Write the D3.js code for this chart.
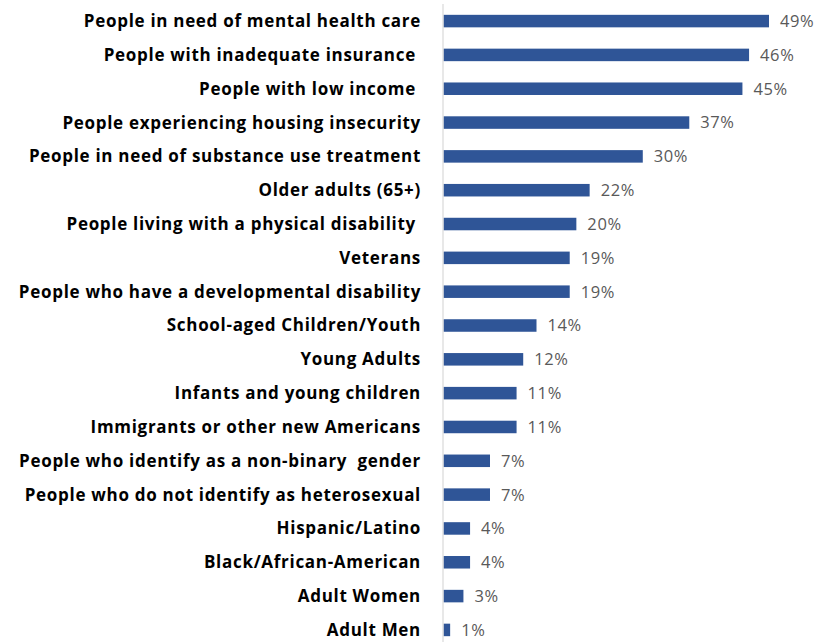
<!DOCTYPE html>
<html>
<head>
<meta charset="utf-8">
<script src="https://cdn.jsdelivr.net/npm/d3@7"></script>
<style>
  html, body { margin: 0; padding: 0; background: #fff; }
  svg { display: block; }
</style>
</head>
<body>
<svg id="chart" width="825" height="642"></svg>
<script>
// Groups served, in display order (top to bottom)
const categories = [
  "People in need of mental health care",
  "People with inadequate insurance ",
  "People with low income ",
  "People experiencing housing insecurity",
  "People in need of substance use treatment",
  "Older adults (65+)",
  "People living with a physical disability ",
  "Veterans",
  "People who have a developmental disability",
  "School-aged Children/Youth",
  "Young Adults",
  "Infants and young children",
  "Immigrants or other new Americans",
  "People who identify as a non-binary  gender",
  "People who do not identify as heterosexual",
  "Hispanic/Latino",
  "Black/African-American",
  "Adult Women",
  "Adult Men"
];
// Share of respondents (%)
const values = [49, 46, 45, 37, 30, 22, 20, 19, 19, 14, 12, 11, 11, 7, 7, 4, 4, 3, 1];

const svg = d3.select("#chart");
const axisX = 443.5;
const x = d3.scaleLinear().domain([0, 49]).range([axisX, 769]);
const y = d3.scaleBand()
  .domain(categories)
  .range([4, 647])
  .paddingInner(0.63)
  .paddingOuter(0.32);

// Bars
svg.append("g")
  .selectAll("rect")
  .data(values)
  .join("rect")
  .attr("x", x(0))
  .attr("y", (d, i) => y(categories[i]))
  .attr("width", d => x(d) - x(0))
  .attr("height", y.bandwidth())
  .attr("fill", "#2F5597");

// Vertical category axis line
svg.append("line")
  .attr("x1", axisX - 0.5).attr("x2", axisX - 0.5)
  .attr("y1", 4).attr("y2", 642)
  .attr("stroke", "#d9d9d9")
  .attr("stroke-width", 1.2);

// Category labels
svg.append("g")
  .selectAll("text")
  .data(categories)
  .join("text")
  .attr("x", 421)
  .attr("y", d => y(d) + y.bandwidth() / 2)
  .attr("dy", "0.35em")
  .attr("text-anchor", "end")
  .attr("font-family", "'Open Sans', sans-serif")
  .attr("font-weight", "bold")
  .attr("font-size", 17)
  .attr("letter-spacing", 0.7)
  .attr("fill", "#000")
  .style("white-space", "pre")
  .text(d => d);

// Value labels
svg.append("g")
  .selectAll("text")
  .data(values)
  .join("text")
  .attr("x", d => x(d) + 11)
  .attr("y", (d, i) => y(categories[i]) + y.bandwidth() / 2)
  .attr("dy", "0.36em")
  .attr("font-family", "'Open Sans', sans-serif")
  .attr("font-size", 16.5)
  .attr("letter-spacing", 0.6)
  .attr("fill", "#595959")
  .text(d => d + "%");
</script>
</body>
</html>
